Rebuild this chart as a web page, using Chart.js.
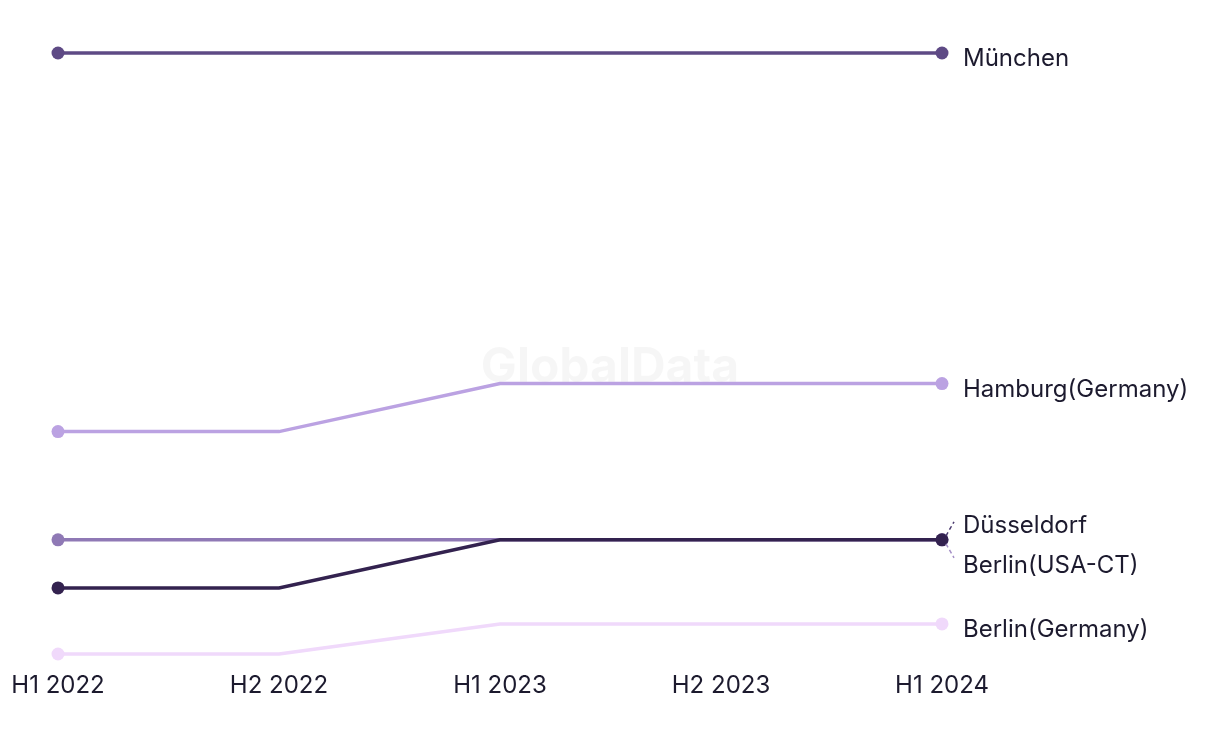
<!DOCTYPE html>
<html>
<head>
<meta charset="utf-8">
<script src="https://cdn.jsdelivr.net/npm/chart.js@4"></script>
<style>
    html, body { margin: 0; padding: 0; background: #fff; }
    #wrap { width: 1220px; height: 744px; }
</style>
</head>
<body>
<div id="wrap"><canvas id="chart" width="1220" height="744"></canvas></div>
<script>
const periods = ['H1 2022', 'H2 2022', 'H1 2023', 'H2 2023', 'H1 2024'];

const muenchen = [101, 101, 101, 101, 101];
const hamburg = [38, 38, 46, 46, 46];
const duesseldorf = [20, 20, 20, 20, 20];
const berlinUsa = [12, 12, 20, 20, 20];
const berlinGermany = [1, 1, 6, 6, 6];

const FONT = 'Inter, "Noto Sans", sans-serif';

// name, values, colour, label offset (for the two that overlap at the end)
const series = [
    { name: 'Berlin(USA-CT)', data: berlinUsa, color: '#33224f', shift: 20, dash: '#a48fc6' },
    { name: 'München', data: muenchen, color: '#5e4a85', shift: 0 },
    { name: 'Hamburg(Germany)', data: hamburg, color: '#bba2e2', shift: 0 },
    { name: 'Düsseldorf', data: duesseldorf, color: '#8f79b5', shift: -20, dash: '#4a3a6e' },
    { name: 'Berlin(Germany)', data: berlinGermany, color: '#f0d9fb', shift: 0 }
];

const endLabels = {
    id: 'endLabels',
    beforeDatasetsDraw(chart) {
        const c = chart.ctx;
        c.save();
        c.font = 'bold 48px ' + FONT;
        c.fillStyle = 'rgba(0,0,0,0.035)';
        c.textAlign = 'center';
        c.textBaseline = 'middle';
        c.fillText('GlobalData', 610, 368);
        c.restore();
    },
    afterDatasetsDraw(chart) {
        const c = chart.ctx;
        c.save();
        c.font = '24px ' + FONT;
        c.fillStyle = '#1c1a2e';
        c.textBaseline = 'middle';
        c.textAlign = 'left';
        chart.data.datasets.forEach((ds, i) => {
            const meta = chart.getDatasetMeta(i);
            const pt = meta.data[meta.data.length - 1];
            const s = series[i];
            const ty = pt.y + 6 + s.shift;
            if (s.shift !== 0) {
                c.save();
                c.strokeStyle = s.dash;
                c.lineWidth = 1.5;
                c.setLineDash([4, 3]);
                c.beginPath();
                c.moveTo(pt.x + 4, pt.y + (s.shift > 0 ? 4 : -4));
                c.lineTo(pt.x + 12, pt.y + (s.shift > 0 ? 18 : -18));
                c.stroke();
                c.restore();
            }
            c.fillText(s.name, pt.x + 21, ty);
        });
        c.restore();
    }
};

new Chart(document.getElementById('chart'), {
    type: 'line',
    data: {
        labels: periods,
        datasets: series.map(s => ({
            label: s.name,
            data: s.data,
            borderColor: s.color,
            backgroundColor: s.color,
            borderWidth: 3.5,
            tension: 0,
            clip: false,
            pointRadius: ctx => (ctx.dataIndex === 0 || ctx.dataIndex === periods.length - 1) ? 6.5 : 0,
            pointHoverRadius: 6.5,
            pointBorderWidth: 0
        }))
    },
    options: {
        responsive: false,
        animation: false,
        layout: { padding: { left: 58, right: 278, top: 53, bottom: 24 } },
        plugins: {
            legend: { display: false },
            tooltip: { enabled: false }
        },
        scales: {
            x: {
                offset: false,
                grid: { display: false, drawTicks: false },
                border: { display: false },
                afterFit: s => { s.height = 60; },
                ticks: {
                    padding: 11,
                    maxRotation: 0,
                    color: '#1c1a2e',
                    font: { family: FONT, size: 24 }
                }
            },
            y: {
                display: false,
                min: 0,
                max: 101
            }
        }
    },
    plugins: [endLabels]
});
</script>
</body>
</html>
